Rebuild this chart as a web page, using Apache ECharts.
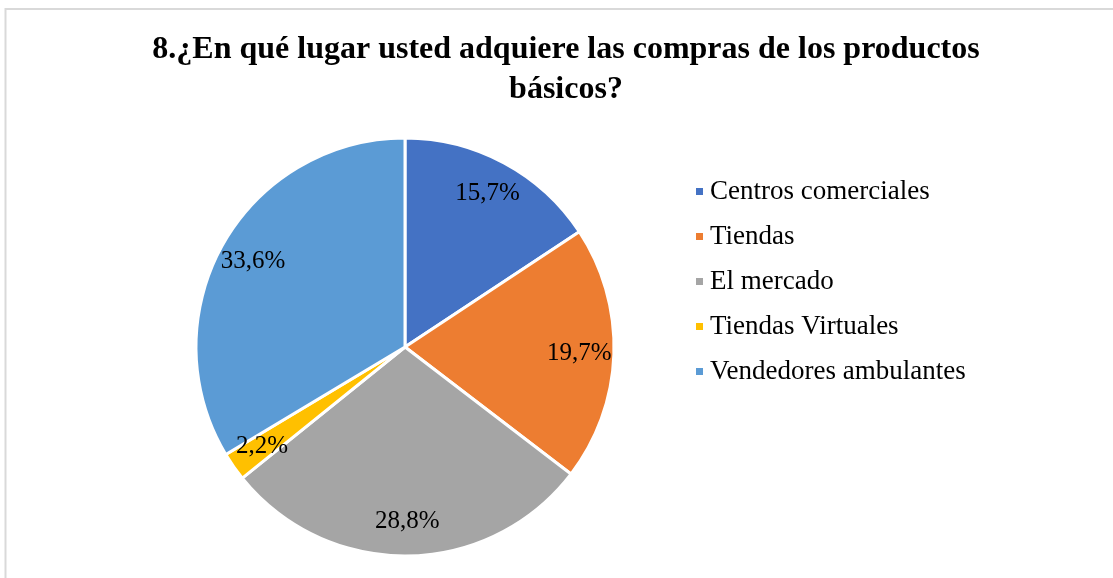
<!DOCTYPE html>
<html>
<head>
<meta charset="utf-8">
<script src="https://cdn.jsdelivr.net/npm/echarts@6/dist/echarts.min.js"></script>
<style>
  html, body { margin: 0; padding: 0; background: #fff; }
  #main { width: 1113px; height: 578px; }
</style>
</head>
<body>
<div id="main"></div>
<script>
const categories = ['Centros comerciales', 'Tiendas', 'El mercado', 'Tiendas Virtuales', 'Vendedores ambulantes']
const values = [15.7, 19.7, 28.8, 2.2, 33.6]
const colors = ['#4472C4', '#ED7D31', '#A5A5A5', '#FFC000', '#5B9BD5']

const pieData = categories.map((name, i) => ({name: name, value: values[i]}))
const fmt = p => p.value.toFixed(1).replace('.', ',') + '%'

let myChart = echarts.init(document.getElementById('main'))
let option = {
  color: colors,
  animation: false,
  title: {
    text: '8.¿En qué lugar usted adquiere las compras de los productos\nbásicos?',
    left: 561,
    top: 25,
    textAlign: 'center',
    textStyle: {
      fontFamily: 'Liberation Serif',
      fontSize: 32,
      fontWeight: 'bold',
      color: '#000',
      lineHeight: 40
    }
  },
  legend: {
    orient: 'vertical',
    left: 689,
    top: 173,
    itemWidth: 9,
    itemHeight: 9,
    itemGap: 18,
    icon: 'rect',
    data: categories,
    textStyle: {
      fontFamily: 'Liberation Serif',
      fontSize: 27,
      color: '#000',
      padding: [0, 0, 0, 1]
    }
  },
  graphic: [
    {
      type: 'rect',
      silent: true,
      shape: {x: 5.5, y: 9, width: 1200, height: 700},
      style: {fill: 'none', stroke: '#d9d9d9', lineWidth: 2}
    }
  ],
  series: [
    {
      type: 'pie',
      center: [405, 347],
      radius: [0, 209],
      startAngle: 90,
      clockwise: true,
      label: {show: false},
      labelLine: {show: false},
      itemStyle: {borderColor: '#fff', borderWidth: 3},
      data: pieData
    },
    {
      type: 'pie',
      center: [405, 347],
      radius: [134, 209],
      startAngle: 90,
      clockwise: true,
      silent: true,
      legendHoverLink: false,
      itemStyle: {color: 'rgba(0,0,0,0)', borderWidth: 0},
      label: {
        show: true,
        position: 'inside',
        formatter: fmt,
        fontFamily: 'Liberation Serif',
        fontSize: 25,
        color: '#000'
      },
      labelLine: {show: false},
      data: pieData
    }
  ]
}
myChart.setOption(option)
</script>
</body>
</html>
